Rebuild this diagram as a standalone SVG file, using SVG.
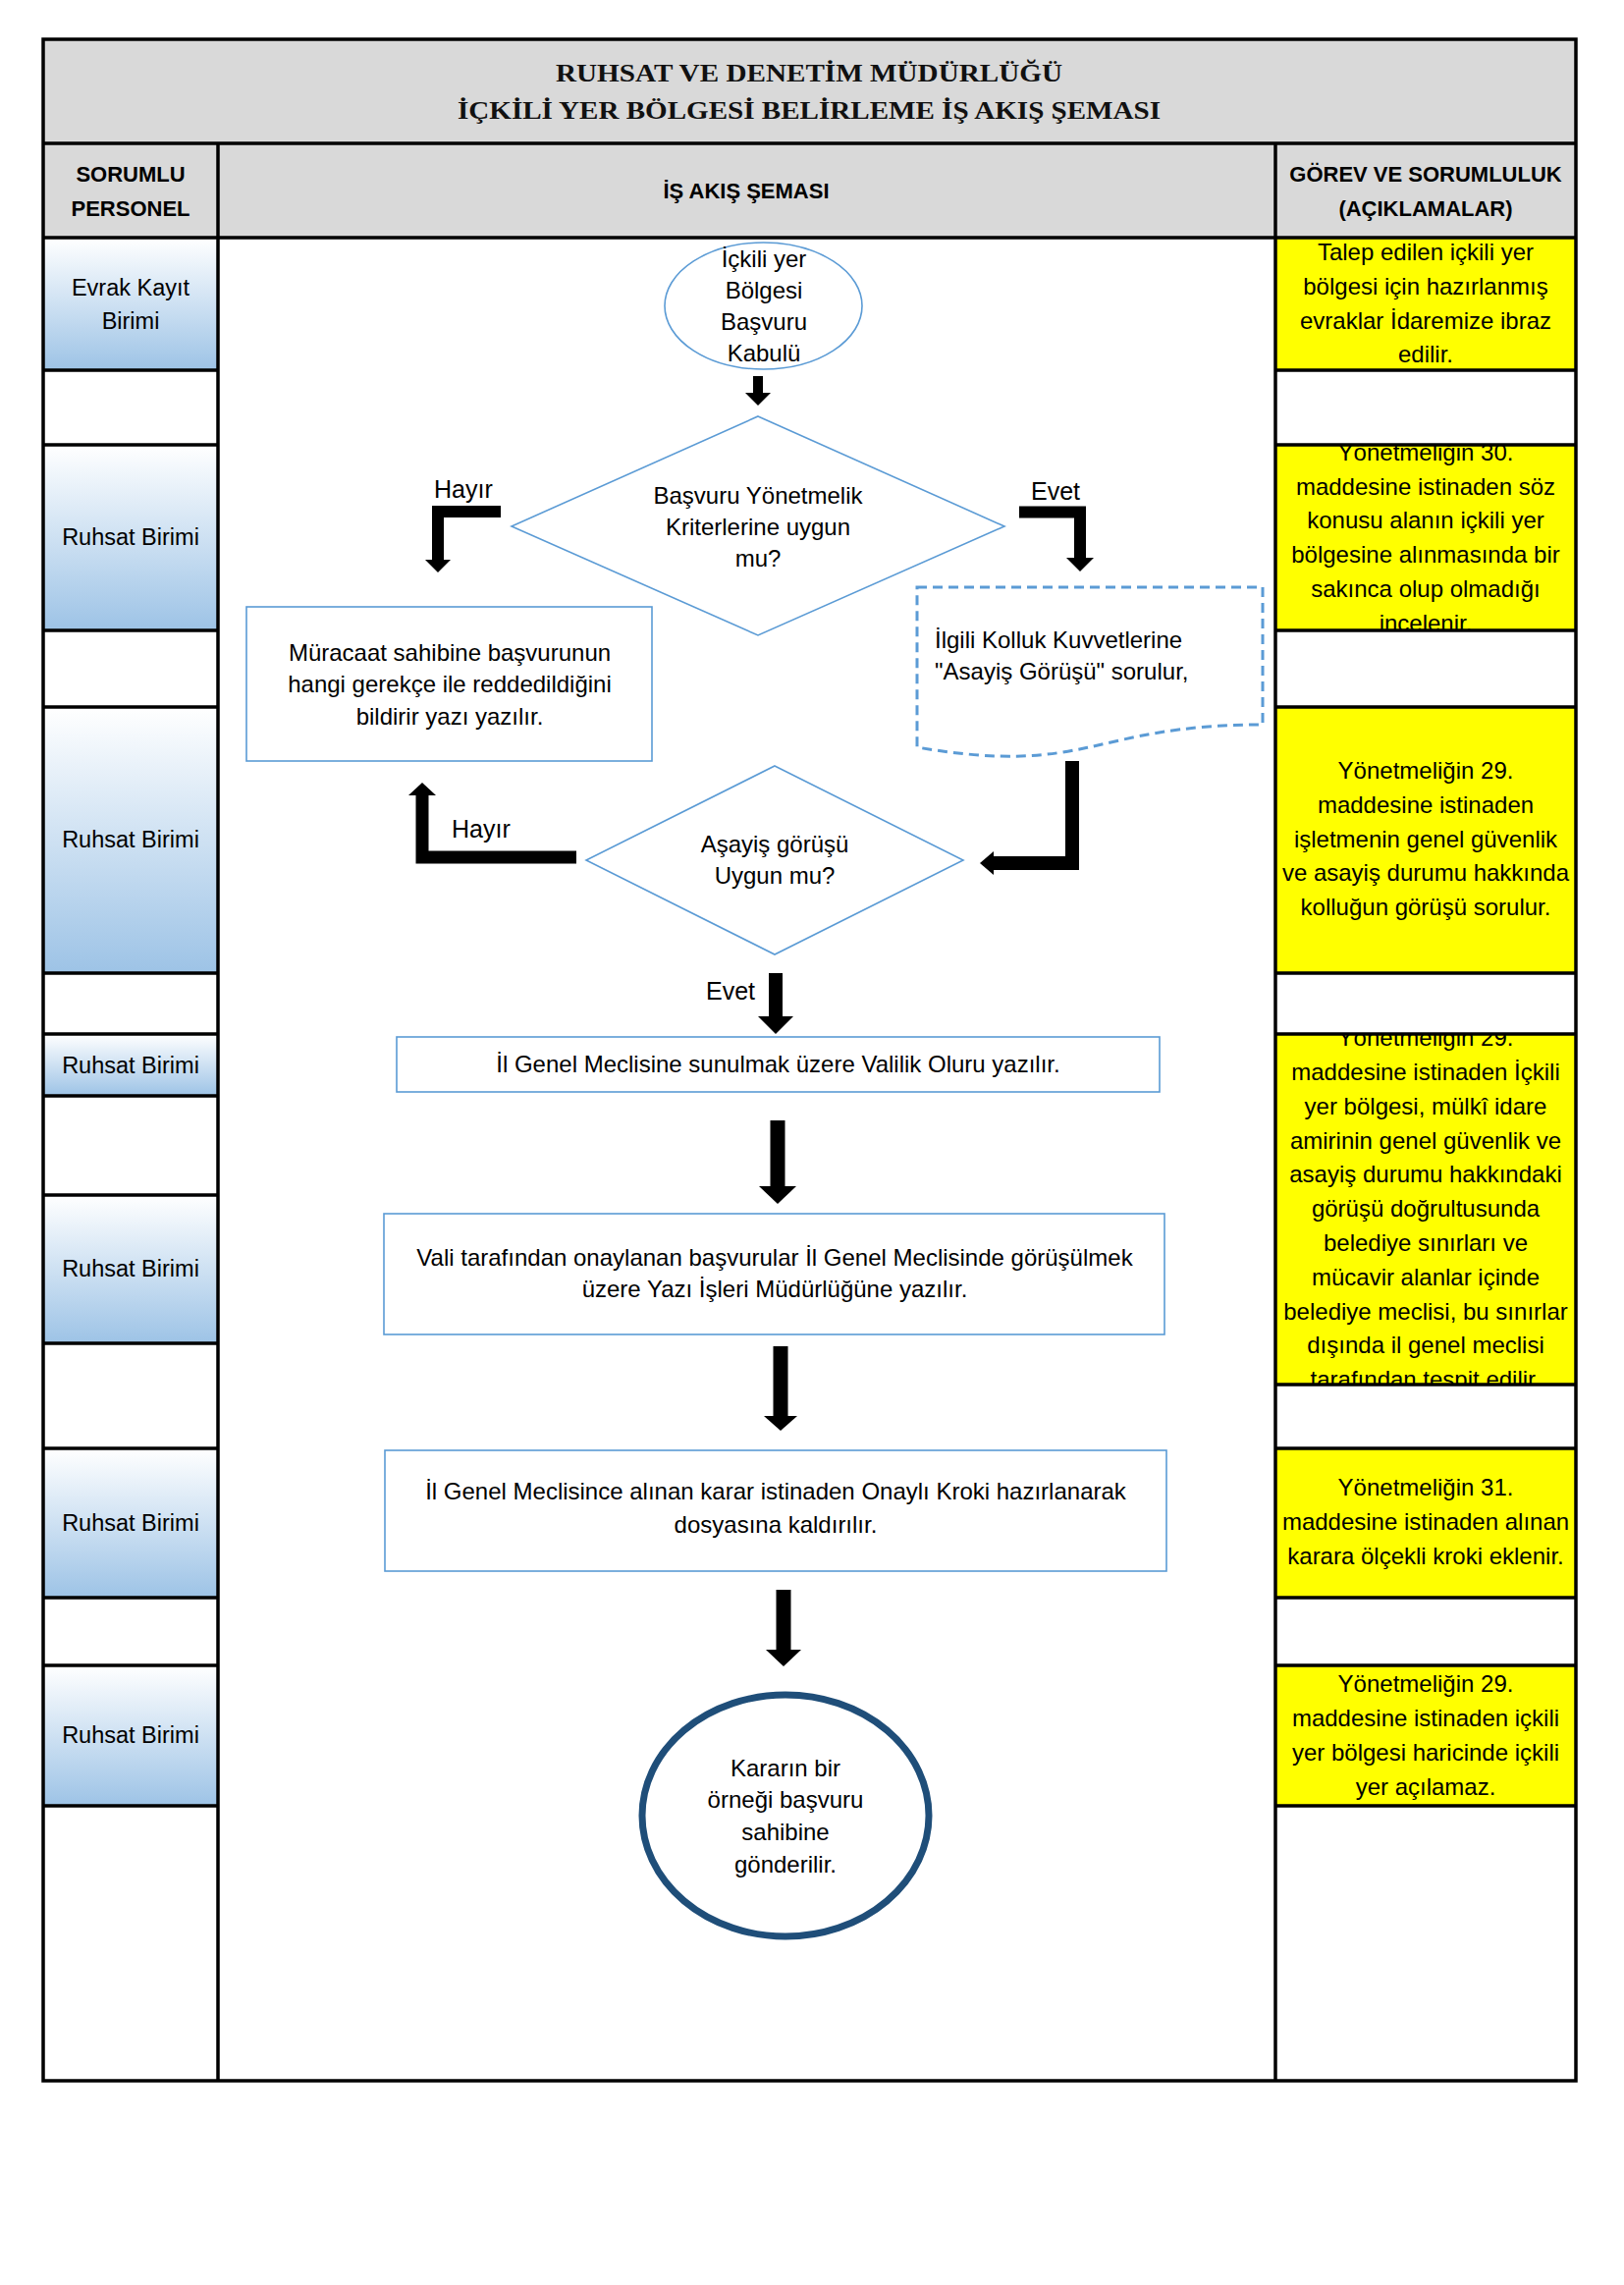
<svg xmlns="http://www.w3.org/2000/svg" width="1654" height="2327" viewBox="0 0 1654 2327">
<style>
.t{font-family:"Liberation Sans",Arial,sans-serif;font-size:24px;fill:#000;text-anchor:middle}
.lt{font-family:"Liberation Sans",Arial,sans-serif;font-size:23.5px;fill:#000;text-anchor:middle}
.h{font-family:"Liberation Sans",Arial,sans-serif;font-size:22px;font-weight:bold;fill:#000;text-anchor:middle}
.ttl{font-family:"Liberation Serif","Times New Roman",serif;font-size:26px;font-weight:bold;fill:#111;text-anchor:middle}
.lbl{font-family:"Liberation Sans",Arial,sans-serif;font-size:25px;fill:#000}
.node{fill:#fff;stroke:#5b9bd5;stroke-width:1.6}
.grid{stroke:#000;stroke-width:3.5;fill:none}
.lc{fill:url(#blueg)}
.yc{fill:#ffff00}
.bar{fill:none;stroke:#000;stroke-linejoin:miter;stroke-linecap:butt}
.head{fill:#000}
</style>
<defs>
<linearGradient id="blueg" x1="0" y1="0" x2="0" y2="1">
<stop offset="0" stop-color="#ffffff"/>
<stop offset="1" stop-color="#9dc3e6"/>
</linearGradient>
<clipPath id="clipY2"><rect x="1299" y="453" width="306" height="189"/></clipPath>
<clipPath id="clipY4"><rect x="1299" y="1053" width="306" height="357"/></clipPath>
</defs>
<rect width="1654" height="2327" fill="#fff"/>
<g id="table">
<rect x="44" y="40" width="1561" height="202" fill="#d9d9d9"/>
<rect class="lc" x="44" y="242" width="178" height="135"/>
<rect class="lc" x="44" y="453" width="178" height="189"/>
<rect class="lc" x="44" y="720" width="178" height="271"/>
<rect class="lc" x="44" y="1053" width="178" height="63"/>
<rect class="lc" x="44" y="1217" width="178" height="151"/>
<rect class="lc" x="44" y="1475" width="178" height="152"/>
<rect class="lc" x="44" y="1696" width="178" height="143"/>
<rect class="yc" x="1299" y="242" width="306" height="135"/>
<rect class="yc" x="1299" y="453" width="306" height="189"/>
<rect class="yc" x="1299" y="720" width="306" height="271"/>
<rect class="yc" x="1299" y="1053" width="306" height="357"/>
<rect class="yc" x="1299" y="1475" width="306" height="152"/>
<rect class="yc" x="1299" y="1696" width="306" height="143"/>
<rect class="grid" x="44" y="40" width="1561" height="2079"/>
<path class="grid" d="M44 146H1605M44 242H1605M222 146V2119M1299 146V2119"/>
<path class="grid" d="M44 377H222M44 453H222M44 642H222M44 720H222M44 991H222M44 1053H222M44 1116H222M44 1217H222M44 1368H222M44 1475H222M44 1627H222M44 1696H222M44 1839H222"/>
<path class="grid" d="M1299 377H1605M1299 453H1605M1299 642H1605M1299 720H1605M1299 991H1605M1299 1053H1605M1299 1410H1605M1299 1475H1605M1299 1627H1605M1299 1696H1605M1299 1839H1605"/>
<text class="ttl" x="824" y="83" textLength="516" lengthAdjust="spacingAndGlyphs">RUHSAT VE DENETİM MÜDÜRLÜĞÜ</text>
<text class="ttl" x="824" y="121" textLength="716" lengthAdjust="spacingAndGlyphs">İÇKİLİ YER BÖLGESİ BELİRLEME İŞ AKIŞ ŞEMASI</text>
<text class="h" x="133" y="185">SORUMLU</text>
<text class="h" x="133" y="220">PERSONEL</text>
<text class="h" x="760" y="202">İŞ AKIŞ ŞEMASI</text>
<text class="h" x="1452" y="185">GÖREV VE SORUMLULUK</text>
<text class="h" x="1452" y="220">(AÇIKLAMALAR)</text>
</g>
<g id="personel">
<text class="lt" x="133" y="301">Evrak Kayıt</text>
<text class="lt" x="133" y="335">Birimi</text>
<text class="lt" x="133" y="555">Ruhsat Birimi</text>
<text class="lt" x="133" y="863">Ruhsat Birimi</text>
<text class="lt" x="133" y="1093">Ruhsat Birimi</text>
<text class="lt" x="133" y="1300">Ruhsat Birimi</text>
<text class="lt" x="133" y="1559">Ruhsat Birimi</text>
<text class="lt" x="133" y="1775">Ruhsat Birimi</text>
</g>
<g id="aciklamalar">
<g id="acik1">
<text class="t" x="1452" y="265">Talep edilen içkili yer</text>
<text class="t" x="1452" y="300">bölgesi için hazırlanmış</text>
<text class="t" x="1452" y="335">evraklar İdaremize ibraz</text>
<text class="t" x="1452" y="369">edilir.</text>
</g>
<g id="acik2" clip-path="url(#clipY2)">
<text class="t" x="1452" y="469">Yönetmeliğin 30.</text>
<text class="t" x="1452" y="504">maddesine istinaden söz</text>
<text class="t" x="1452" y="538">konusu alanın içkili yer</text>
<text class="t" x="1452" y="573">bölgesine alınmasında bir</text>
<text class="t" x="1452" y="608">sakınca olup olmadığı</text>
<text class="t" x="1452" y="643">incelenir.</text>
</g>
<g id="acik3">
<text class="t" x="1452" y="793">Yönetmeliğin 29.</text>
<text class="t" x="1452" y="828">maddesine istinaden</text>
<text class="t" x="1452" y="863">işletmenin genel güvenlik</text>
<text class="t" x="1452" y="897">ve asayiş durumu hakkında</text>
<text class="t" x="1452" y="932">kolluğun görüşü sorulur.</text>
</g>
<g id="acik4" clip-path="url(#clipY4)">
<text class="t" x="1452" y="1065">Yönetmeliğin 29.</text>
<text class="t" x="1452" y="1100">maddesine istinaden İçkili</text>
<text class="t" x="1452" y="1135">yer bölgesi, mülkî idare</text>
<text class="t" x="1452" y="1170">amirinin genel güvenlik ve</text>
<text class="t" x="1452" y="1204">asayiş durumu hakkındaki</text>
<text class="t" x="1452" y="1239">görüşü doğrultusunda</text>
<text class="t" x="1452" y="1274">belediye sınırları ve</text>
<text class="t" x="1452" y="1309">mücavir alanlar içinde</text>
<text class="t" x="1452" y="1344">belediye meclisi, bu sınırlar</text>
<text class="t" x="1452" y="1378">dışında il genel meclisi</text>
<text class="t" x="1452" y="1413">tarafından tespit edilir.</text>
</g>
<g id="acik5">
<text class="t" x="1452" y="1523">Yönetmeliğin 31.</text>
<text class="t" x="1452" y="1558">maddesine istinaden alınan</text>
<text class="t" x="1452" y="1593">karara ölçekli kroki eklenir.</text>
</g>
<g id="acik6">
<text class="t" x="1452" y="1723">Yönetmeliğin 29.</text>
<text class="t" x="1452" y="1758">maddesine istinaden içkili</text>
<text class="t" x="1452" y="1793">yer bölgesi haricinde içkili</text>
<text class="t" x="1452" y="1828">yer açılamaz.</text>
</g>
</g>
<g id="connectors">
<rect x="767" y="383" width="10" height="18" fill="#000"/>
<polygon class="head" points="759,400 785,400 772,413"/>
<path class="bar" stroke-width="12" d="M510 521H446V571"/>
<polygon class="head" points="433,570 459,570 446,583"/>
<path class="bar" stroke-width="12" d="M1038 521.5H1100V569"/>
<polygon class="head" points="1086,568 1114,568 1100,582"/>
<path class="bar" stroke-width="14" d="M1092 775V879H1012"/>
<polygon class="head" points="1012,867 1012,891 998,879"/>
<path class="bar" stroke-width="13" d="M587 873H430V809"/>
<polygon class="head" points="416,810 444,810 430,797"/>
<path class="bar" stroke-width="14" d="M790 991V1036"/>
<polygon class="head" points="772,1035 808,1035 790,1053"/>
<path class="bar" stroke-width="15" d="M792 1141V1209"/>
<polygon class="head" points="773,1208 811,1208 792,1226"/>
<path class="bar" stroke-width="15" d="M795 1371V1443"/>
<polygon class="head" points="778,1442 812,1442 795,1457"/>
<path class="bar" stroke-width="15" d="M798 1619V1681"/>
<polygon class="head" points="780,1680 816,1680 798,1697"/>
<text class="lbl" x="442" y="507">Hayır</text>
<text class="lbl" x="1050" y="509">Evet</text>
<text class="lbl" x="460" y="853">Hayır</text>
<text class="lbl" x="719" y="1018">Evet</text>
</g>
<g id="n-start">
<ellipse class="node" cx="777.5" cy="311.5" rx="100.5" ry="64.5"/>
<text class="t" x="778" y="272">İçkili yer</text>
<text class="t" x="778" y="304">Bölgesi</text>
<text class="t" x="778" y="336">Başvuru</text>
<text class="t" x="778" y="368">Kabulü</text>
</g>
<g id="n-karar1">
<polygon class="node" points="772,424 1023,536 772,647 521,536"/>
<text class="t" x="772" y="513">Başvuru Yönetmelik</text>
<text class="t" x="772" y="545">Kriterlerine uygun</text>
<text class="t" x="772" y="577">mu?</text>
</g>
<g id="n-red">
<rect class="node" x="251" y="618" width="413" height="157"/>
<text class="t" x="458" y="673">Müracaat sahibine başvurunun</text>
<text class="t" x="458" y="705">hangi gerekçe ile reddedildiğini</text>
<text class="t" x="458" y="738">bildirir yazı yazılır.</text>
</g>
<g id="n-kolluk">
<path d="M934 598H1286V738C1110 738 1110 791 934 761Z" fill="#fff" stroke="#5b9bd5" stroke-width="3" stroke-dasharray="10 6"/>
<text class="t" x="952" y="660" style="text-anchor:start">İlgili Kolluk Kuvvetlerine</text>
<text class="t" x="952" y="692" style="text-anchor:start">"Asayiş Görüşü" sorulur,</text>
</g>
<g id="n-karar2">
<polygon class="node" points="789,780 981,876 789,972 597,876"/>
<text class="t" x="789" y="868">Aşayiş görüşü</text>
<text class="t" x="789" y="900">Uygun mu?</text>
</g>
<g id="n-valilik">
<rect class="node" x="404" y="1056" width="777" height="56"/>
<text class="t" x="792.5" y="1092">İl Genel Meclisine sunulmak üzere Valilik Oluru yazılır.</text>
</g>
<g id="n-meclis">
<rect class="node" x="391" y="1236" width="795" height="123"/>
<text class="t" x="789" y="1289">Vali tarafından onaylanan başvurular İl Genel Meclisinde görüşülmek</text>
<text class="t" x="789" y="1321">üzere Yazı İşleri Müdürlüğüne yazılır.</text>
</g>
<g id="n-kroki">
<rect class="node" x="392" y="1477" width="796" height="123"/>
<text class="t" x="790" y="1527">İl Genel Meclisince alınan karar istinaden Onaylı Kroki hazırlanarak</text>
<text class="t" x="790" y="1561">dosyasına kaldırılır.</text>
</g>
<g id="n-end">
<ellipse cx="800" cy="1849" rx="146" ry="123" fill="#fff" stroke="#1f4e79" stroke-width="7"/>
<text class="t" x="800" y="1809">Kararın bir</text>
<text class="t" x="800" y="1841">örneği başvuru</text>
<text class="t" x="800" y="1874">sahibine</text>
<text class="t" x="800" y="1907">gönderilir.</text>
</g>
</svg>
